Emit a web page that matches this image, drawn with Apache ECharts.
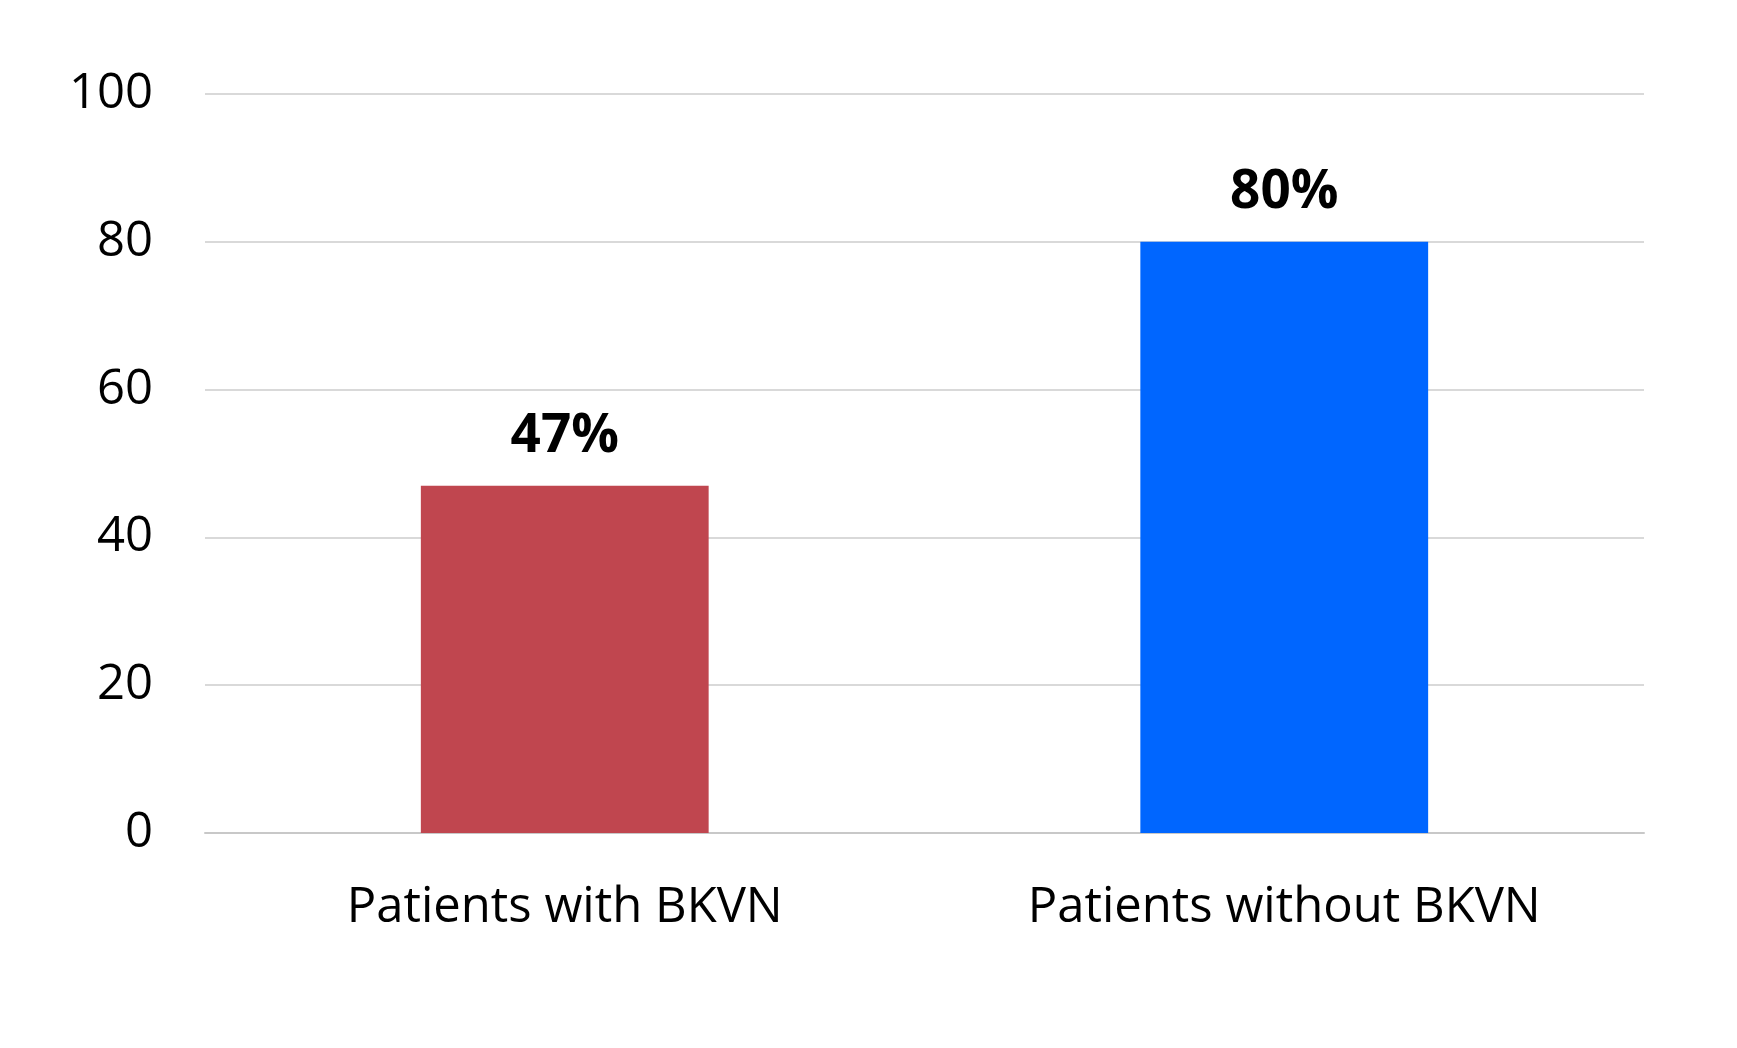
<!DOCTYPE html>
<html>
<head>
<meta charset="utf-8">
<script src="https://cdn.jsdelivr.net/npm/echarts@6/dist/echarts.min.js"></script>
<style>html,body{margin:0;padding:0;background:#fff;}#c{width:1737px;height:1048px;}</style>
</head>
<body>
<div id="c"></div>
<script>
const categories = ["Patients with BKVN", "Patients without BKVN"];
const values = [47, 80];
const barColors = ["#C0464F", "#0066FF"];
const yTicks = [0, 20, 40, 60, 80, 100];

const chart = echarts.init(document.getElementById('c'));
chart.setOption({
  animation: false,
  backgroundColor: '#ffffff',
  grid: { left: 205, right: 93, top: 94, bottom: 215, containLabel: false },
  xAxis: {
    type: 'category',
    data: categories,
    axisLine: { lineStyle: { color: '#C8C8C8', width: 2 } },
    axisTick: { show: false },
    axisLabel: { color: '#000', fontFamily: 'Open Sans', fontSize: 49, margin: 51 }
  },
  yAxis: {
    type: 'value',
    min: yTicks[0], max: yTicks[yTicks.length - 1], interval: 20,
    axisLine: { show: false },
    axisTick: { show: false },
    splitLine: { lineStyle: { color: '#D9D9D9', width: 2 } },
    axisLabel: { color: '#000', fontFamily: 'Open Sans', fontSize: 49, margin: 52, padding: [7, 0, 0, 0] }
  },
  series: [{
    type: 'bar',
    barWidth: '40%',
    data: values.map((v, i) => ({ value: v, itemStyle: { color: barColors[i] } })),
    label: {
      show: true, position: 'top', distance: 22,
      formatter: p => p.value + '%',
      color: '#000', fontFamily: 'Open Sans', fontWeight: 'bold', fontSize: 53
    }
  }]
});
</script>
</body>
</html>
